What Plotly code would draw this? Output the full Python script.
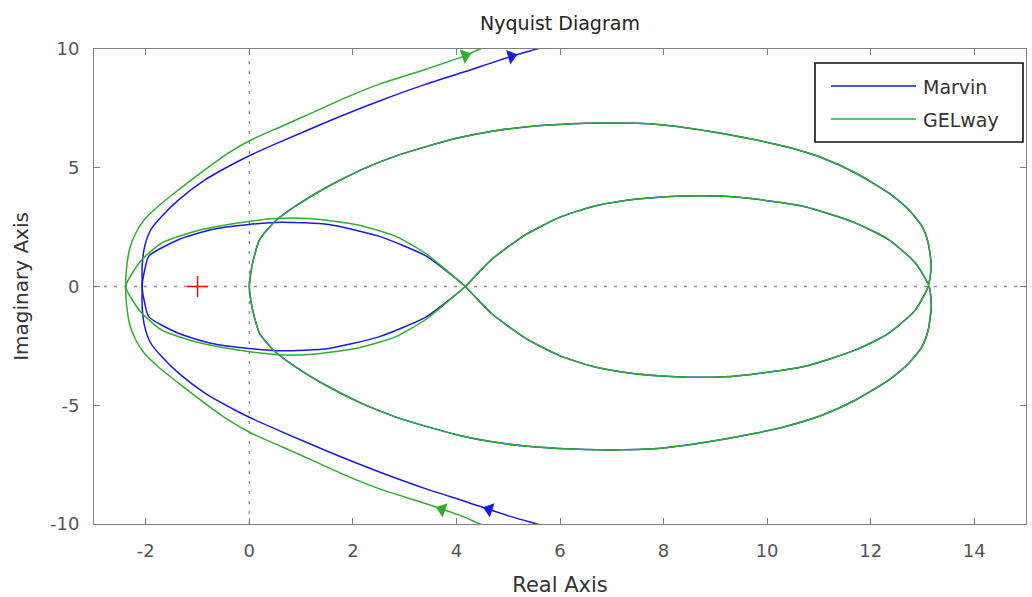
import numpy as np
import plotly.graph_objects as go

# ---------------- data (upper half, Im >= 0; lower half is the mirror image) ----------------
# Outer branch (from real-axis crossing up to +j infinity)
marvin_outer_x = [-2.07, -2.07, -2.02, -1.90, -1.69, -1.36, -0.85, -0.27, 0.05, 0.63, 1.53, 2.50, 3.40, 4.17, 5.04, 5.55, 5.90]
marvin_outer_y = [0.00, 0.86, 1.70, 2.40, 2.96, 3.66, 4.50, 5.21, 5.56, 6.12, 6.96, 7.80, 8.51, 9.05, 9.68, 10.00, 10.22]
gelway_outer_x = [-2.39, -2.37, -2.31, -2.20, -2.04, -1.75, -1.36, -0.85, -0.40, 0.05, 0.63, 1.21, 1.85, 2.50, 3.40, 4.17, 4.45, 4.75]
gelway_outer_y = [0.00, 0.80, 1.60, 2.22, 2.78, 3.40, 4.08, 4.93, 5.63, 6.19, 6.75, 7.31, 7.94, 8.51, 9.14, 9.72, 10.00, 10.20]

# Left lobe (from left crossing to the crossing near Re = 4.17)
marvin_lobe_x = [-2.07, -2.03, -1.94, -1.36, -0.72, -0.01, 0.63, 1.53, 2.50, 3.40, 3.78, 4.17]
marvin_lobe_y = [0.00, 0.60, 1.28, 1.98, 2.40, 2.61, 2.71, 2.61, 2.12, 1.30, 0.70, 0.00]
gelway_lobe_x = [-2.39, -2.25, -2.07, -1.69, -1.04, -0.40, 0.50, 1.15, 2.05, 2.82, 3.40, 3.78, 4.17]
gelway_lobe_y = [0.00, 0.60, 1.14, 1.84, 2.33, 2.61, 2.86, 2.86, 2.61, 2.12, 1.40, 0.73, 0.00]

# Right lobe (from Re = 4.17 to Re = 13.11), same for both systems
right_lobe_x = [4.17, 4.45, 4.69, 5.33, 5.97, 6.62, 7.26, 8.22, 9.19, 9.77, 10.73, 11.70, 12.34, 12.86, 13.11]
right_lobe_y = [0.00, 0.64, 1.16, 2.17, 2.89, 3.36, 3.62, 3.80, 3.80, 3.68, 3.36, 2.68, 1.98, 1.00, 0.00]

# Large loop (from the origin to Re = 13.13), same for both systems
big_loop_x = [0.00, 0.03, 0.08, 0.20, 0.50, 0.89, 1.53, 2.18, 2.82, 3.40, 4.04, 4.69, 5.33, 5.97, 6.94,
              7.90, 8.87, 9.77, 10.41, 11.06, 11.70, 12.34, 12.73, 12.99, 13.11, 13.17, 13.13]
big_loop_y = [0.00, 0.60, 1.14, 1.98, 2.75, 3.38, 4.22, 4.93, 5.49, 5.88, 6.26, 6.54, 6.72, 6.82, 6.88,
              6.82, 6.54, 6.18, 5.86, 5.42, 4.79, 3.95, 3.24, 2.54, 1.84, 0.86, 0.00]

# Direction arrows (x, y) on the outer branches
marvin_arrows_x = [5.06, 4.63]
marvin_arrows_y = [9.69, -9.38]
gelway_arrows_x = [4.17, 3.72]
gelway_arrows_y = [9.72, -9.38]

critical_x = [-1]
critical_y = [0]

x_ticks = [-2, 0, 2, 4, 6, 8, 10, 12, 14]
x_tick_labels = ["-2", "0", "2", "4", "6", "8", "10", "12", "14"]
y_ticks = [-10, -5, 0, 5, 10]
y_tick_labels = ["-10", "-5", "0", "5", "10"]

series_names = ["Marvin", "GELway"]

BLUE = "#1a1ae0"
GREEN = "#2fae2f"

# ---------------- helpers ----------------
def rev(a):
    return list(a)[::-1]

def neg(a):
    return [-v for v in a]

def build_path(ox, oy, lx, ly):
    # outer branch: bottom (mirrored) -> crossing -> top
    px = rev(ox) + list(ox)[1:]
    py = rev(neg(oy)) + list(oy)[1:]
    # closed loop: left lobe upper -> right lobe lower -> big loop upper (back to origin)
    # -> big loop lower -> right lobe upper -> left lobe lower
    qx = (list(lx) + list(right_lobe_x)[1:] + rev(big_loop_x)[1:] + list(big_loop_x)[1:]
          + rev(right_lobe_x)[1:] + rev(lx)[1:])
    qy = (list(ly) + neg(right_lobe_y)[1:] + rev(big_loop_y)[1:] + neg(big_loop_y)[1:]
          + rev(right_lobe_y)[1:] + rev(neg(ly))[1:])
    return px, py, qx, qy

SX = 932 / 18.0   # px per unit (x)
SY = 475 / 20.0   # px per unit (y)

def arrow_angles(ax, ay, ox, oy):
    ang = []
    ox = np.array(ox); oy = np.array(oy)
    for xa, ya in zip(ax, ay):
        i = int(np.clip(np.searchsorted(oy, abs(ya)), 1, len(oy) - 1))
        dx = (ox[i] - ox[i - 1]) * SX
        dy = (oy[i] - oy[i - 1]) * SY
        if ya < 0:
            dx = -dx  # lower branch travels up-left
        ang.append(float(np.degrees(np.arctan2(dx, dy))))
    return ang

m_px, m_py, m_qx, m_qy = build_path(marvin_outer_x, marvin_outer_y, marvin_lobe_x, marvin_lobe_y)
g_px, g_py, g_qx, g_qy = build_path(gelway_outer_x, gelway_outer_y, gelway_lobe_x, gelway_lobe_y)

fig = go.Figure()

for name, color, (px, py, qx, qy) in [
        (series_names[0], BLUE, (m_px, m_py, m_qx, m_qy)),
        (series_names[1], GREEN, (g_px, g_py, g_qx, g_qy))]:
    fig.add_trace(go.Scatter(x=px, y=py, mode="lines", name=name, legendgroup=name, showlegend=False,
                             line=dict(color=color, width=1.5, shape="spline", smoothing=0.6)))
    fig.add_trace(go.Scatter(x=qx, y=qy, mode="lines", name=name, legendgroup=name, showlegend=False,
                             line=dict(color=color, width=1.5, shape="spline", smoothing=0.6)))

fig.add_trace(go.Scatter(x=marvin_arrows_x, y=marvin_arrows_y, mode="markers", showlegend=False,
                         marker=dict(symbol="triangle-up", size=13, color=BLUE,
                                     angle=arrow_angles(marvin_arrows_x, marvin_arrows_y,
                                                        marvin_outer_x, marvin_outer_y))))
fig.add_trace(go.Scatter(x=gelway_arrows_x, y=gelway_arrows_y, mode="markers", showlegend=False,
                         marker=dict(symbol="triangle-up", size=13, color=GREEN,
                                     angle=arrow_angles(gelway_arrows_x, gelway_arrows_y,
                                                        gelway_outer_x, gelway_outer_y))))

fig.add_trace(go.Scatter(x=critical_x, y=critical_y, mode="markers", showlegend=False,
                         marker=dict(symbol="cross-thin", size=15, color="red",
                                     line=dict(color="red", width=1.4))))

# dotted zero lines
fig.add_shape(type="line", x0=0, x1=0, y0=-10, y1=10, xref="x", yref="y", layer="below",
              line=dict(color="#8a8a8a", width=1.3, dash="3px,7px"))
fig.add_shape(type="line", x0=-3, x1=15, y0=0, y1=0, xref="x", yref="y", layer="below",
              line=dict(color="#8a8a8a", width=1.3, dash="3px,7px"))

FONT = "DejaVu Sans, Liberation Sans, Arial, sans-serif"

# manual legend box (MATLAB style)
def px2x(p):
    return (p - 94) / 932.0

def px2y(p):
    return (524 - p) / 475.0

fig.add_shape(type="rect", xref="paper", yref="paper",
              x0=px2x(815), x1=px2x(1023), y0=px2y(142), y1=px2y(63),
              line=dict(color="#111", width=1.6), fillcolor="white", layer="above")
for name, color, yy in [(series_names[0], BLUE, 86), (series_names[1], GREEN, 119)]:
    fig.add_shape(type="line", xref="paper", yref="paper",
                  x0=px2x(831), x1=px2x(916), y0=px2y(yy), y1=px2y(yy),
                  line=dict(color=color, width=1.5), layer="above")
    fig.add_annotation(text=name, xref="paper", yref="paper", x=px2x(921), y=px2y(yy + 1),
                       xanchor="left", yanchor="middle", showarrow=False,
                       font=dict(family=FONT, size=19, color="#333"))

fig.update_layout(
    width=1032, height=597,
    margin=dict(l=94, r=6, t=49, b=73),
    plot_bgcolor="white", paper_bgcolor="white",
    font=dict(family=FONT, size=18, color="#333"),
    title=dict(text="Nyquist Diagram", x=0.5, xref="paper", xanchor="center",
               y=1 - 23 / 597, yanchor="middle", yref="container",
               font=dict(family=FONT, size=19, color="#222")),
    showlegend=False,
)

fig.update_xaxes(range=[-3, 15], tickvals=x_ticks, ticktext=x_tick_labels, ticks="inside", ticklen=6,
                 showline=True, linecolor="#808080", linewidth=1, mirror="ticks",
                 tickcolor="#808080", showgrid=False, zeroline=False, automargin=False,
                 tickfont=dict(size=18, color="#555"), ticklabelstandoff=10,
                 title=dict(text="Real Axis", font=dict(size=21, color="#333"), standoff=17))
fig.update_yaxes(range=[-10, 10], tickvals=y_ticks, ticktext=y_tick_labels, ticks="inside", ticklen=6,
                 showline=True, linecolor="#808080", linewidth=1, mirror="ticks",
                 tickcolor="#808080", showgrid=False, zeroline=False, automargin=False,
                 tickfont=dict(size=18, color="#555"), ticklabelstandoff=10,
                 title=dict(text="Imaginary Axis", font=dict(size=20, color="#333"), standoff=15))

fig.write_html("out.html", config={"displayModeBar": False},
               post_script="document.body.style.margin='0px';document.body.style.overflow='hidden';")
